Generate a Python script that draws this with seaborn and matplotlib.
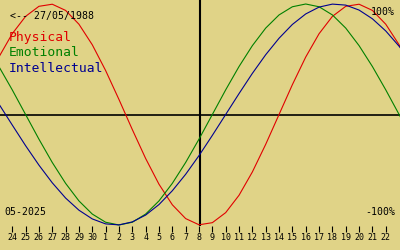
import numpy as np
import pandas as pd
import matplotlib
matplotlib.use("Agg")
import matplotlib.pyplot as plt
import seaborn as sns

# day offsets relative to the marked day (08 May 2025)
days = list(range(-16, 17))
physical = [0.27, 0.52, 0.731, 0.888, 0.979, 0.998, 0.942, 0.817, 0.631, 0.398, 0.136, -0.136, -0.398, -0.631, -0.817, -0.942, -0.998, -0.979, -0.888, -0.731, -0.52, -0.27, -0.0, 0.27, 0.52, 0.731, 0.888, 0.979, 0.998, 0.942, 0.817, 0.631, 0.398]
emotional = [0.623, 0.434, 0.223, 0.0, -0.223, -0.434, -0.623, -0.782, -0.901, -0.975, -1.0, -0.975, -0.901, -0.782, -0.623, -0.434, -0.223, -0.0, 0.223, 0.434, 0.623, 0.782, 0.901, 0.975, 1.0, 0.975, 0.901, 0.782, 0.623, 0.434, 0.223, 0.0, -0.223]
intellectual = [0.282, 0.095, -0.095, -0.282, -0.458, -0.618, -0.756, -0.866, -0.945, -0.99, -0.999, -0.972, -0.91, -0.815, -0.69, -0.541, -0.372, -0.189, -0.0, 0.189, 0.372, 0.541, 0.69, 0.815, 0.91, 0.972, 0.999, 0.99, 0.945, 0.866, 0.756, 0.618, 0.458]
series_names = ["Physical", "Emotional", "Intellectual"]
tick_offsets = list(range(-14, 15))
tick_labels = ["24", "25", "26", "27", "28", "29", "30", "1", "2", "3", "4", "5", "6", "7",
               "8", "9", "10", "11", "12", "13", "14", "15", "16", "17", "18", "19", "20", "21", "22"]
today_offset = 0.11
birth_label = "<-- 27/05/1988"
month_label = "05-2025"

colors = {"Physical": "#e00000", "Emotional": "#008000", "Intellectual": "#000090"}
bg = "#e0d387"

df = pd.DataFrame({
    "day": days * 3,
    "value": physical + emotional + intellectual,
    "series": sum([[n] * len(days) for n in series_names], []),
})

sns.set_theme(style="white")
plt.rcParams["font.family"] = ["DejaVu Sans Mono"]

W, H = 400, 250
fig = plt.figure(figsize=(4, 2.5), dpi=100, facecolor=bg)
ax = fig.add_axes([0, 24 / H, 1, 226 / H])
ax.set_facecolor(bg)

sns.lineplot(data=df, x="day", y="value", hue="series", palette=colors,
             hue_order=series_names, legend=False, ax=ax, linewidth=0.8,
             estimator=None, sort=True)
for l in ax.lines:
    l.set_clip_on(False)

ax.axhline(0, color="black", linewidth=1.2, zorder=0.5)
ax.axvline(today_offset, color="black", linewidth=1.5, zorder=0.5)

scale = 110.5
step = 13.34
ax.set_xlim(-199 / step, 201 / step)
ax.set_ylim(-111.5 / scale, 114.5 / scale)
ax.set_xticks(tick_offsets)
ax.set_xticklabels(tick_labels, fontsize=6)
ax.set_yticks([])
ax.tick_params(axis="x", direction="out", length=4, width=0.8, color="black",
               pad=1.2, bottom=True, labelcolor="black")
ax.set_xlabel("")
ax.set_ylabel("")
for s in ax.spines.values():
    s.set_visible(False)

def px(x, y):
    return x / W, 1 - y / H

fig.text(*px(10, 16), birth_label, fontsize=7.1, color="black", va="center", ha="left")
for name, y in zip(series_names, [38, 53, 68]):
    fig.text(*px(9, y), name, fontsize=9.4, color=colors[name], va="center", ha="left")
fig.text(*px(395, 12), "100%", fontsize=7.1, color="black", va="center", ha="right")
fig.text(*px(395, 212), "-100%", fontsize=7.1, color="black", va="center", ha="right")
fig.text(*px(4, 212), month_label, fontsize=7.1, color="black", va="center", ha="left")

fig.savefig("out.png", dpi=100, facecolor=bg)
